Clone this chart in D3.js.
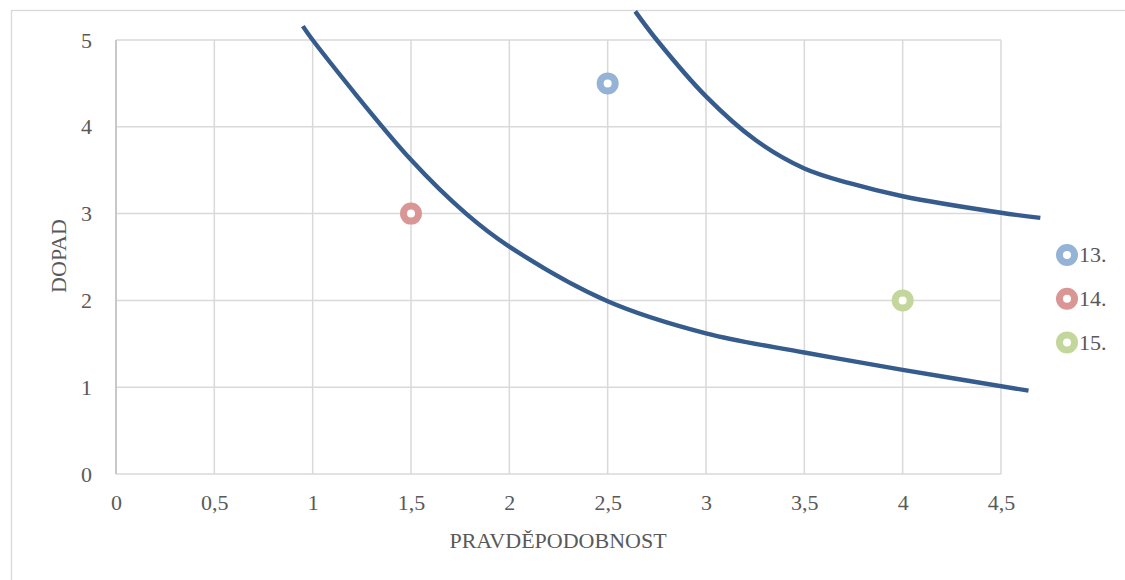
<!DOCTYPE html>
<html><head><meta charset="utf-8">
<script src="https://cdn.jsdelivr.net/npm/d3@7"></script>
<style>body{margin:0;background:#fff}svg{display:block}</style>
</head><body><svg id="c" width="1125" height="580"></svg>
<script>
const xTicks = [0,0.5,1,1.5,2,2.5,3,3.5,4,4.5];
const xTickLabels = ["0","0,5","1","1,5","2","2,5","3","3,5","4","4,5"];
const yTicks = [0,1,2,3,4,5];
const yTickLabels = ["0","1","2","3","4","5"];
const lowerCurveX = [0.95,1,1.5,1.78,2,2.5,3,3.5,4,4.64];
const lowerCurveY = [5.16,5.0,3.62,3.0,2.62,1.99,1.62,1.4,1.2,0.96];
const upperCurveX = [2.64,2.75,3,3.25,3.5,3.73,4,4.5,4.7];
const upperCurveY = [5.33,5.0,4.35,3.85,3.52,3.35,3.2,3.01,2.95];
const seriesNames = ["13.","14.","15."];
const seriesX = [2.5,1.5,4];
const seriesY = [4.5,3,2];
const seriesColors = ["#95b3d7","#d99694","#c3d69b"];

const svg = d3.select("#c");
const font = "'Liberation Serif', serif";
const fs = 22;
const textColor = "#595959";
svg.append("rect").attr("x",11.5).attr("y",10.5).attr("width",1200).attr("height",700)
  .attr("fill","#fff").attr("stroke","#d9d9d9").attr("stroke-width",1.3);

const x = d3.scaleLinear().domain([0,4.5]).range([116,1001]);
const y = d3.scaleLinear().domain([0,5]).range([474,40]);

const g = svg.append("g");
g.selectAll(".vg").data(xTicks).join("line")
  .attr("x1",d=>x(d)).attr("x2",d=>x(d)).attr("y1",y(0)).attr("y2",y(5))
  .attr("stroke","#d9d9d9").attr("stroke-width",1.5);
g.selectAll(".hg").data(yTicks).join("line")
  .attr("x1",x(0)).attr("x2",x(4.5)).attr("y1",d=>y(d)).attr("y2",d=>y(d))
  .attr("stroke","#d9d9d9").attr("stroke-width",1.5);
g.append("line").attr("x1",x(0)).attr("x2",x(0)).attr("y1",y(0)).attr("y2",y(5))
  .attr("stroke","#bfbfbf").attr("stroke-width",1.5);

const xAxis = d3.axisBottom(x).tickValues(xTicks).tickFormat((d,i)=>xTickLabels[i]).tickSize(0).tickPadding(20.5);
const xa = svg.append("g").attr("transform",`translate(0,${y(0)})`).call(xAxis);
const yAxis = d3.axisLeft(y).tickValues(yTicks).tickFormat((d,i)=>yTickLabels[i]).tickSize(0).tickPadding(24);
const ya = svg.append("g").attr("transform",`translate(${x(0)},0)`).call(yAxis);
[xa,ya].forEach(a=>{a.select(".domain").remove();
  a.selectAll("text").attr("font-family",font).attr("font-size",fs).attr("fill",textColor);});

const line = d3.line().x(d=>x(d[0])).y(d=>y(d[1])).curve(d3.curveCatmullRom.alpha(0.5));
[[lowerCurveX,lowerCurveY],[upperCurveX,upperCurveY]].forEach(([xs,ys])=>{
  svg.append("path").datum(xs.map((v,i)=>[v,ys[i]])).attr("d",line)
    .attr("fill","none").attr("stroke","#355c8c").attr("stroke-width",4.4);
});

seriesNames.forEach((n,i)=>{
  svg.append("circle").attr("cx",x(seriesX[i])).attr("cy",y(seriesY[i])).attr("r",7.5)
    .attr("fill","#fff").attr("stroke",seriesColors[i]).attr("stroke-width",7);
});

const lg = svg.append("g");
seriesNames.forEach((n,i)=>{
  const cy = 255 + i*43.7;
  lg.append("circle").attr("cx",1067).attr("cy",cy).attr("r",7.5)
    .attr("fill","#fff").attr("stroke",seriesColors[i]).attr("stroke-width",7);
  lg.append("text").attr("x",1079).attr("y",cy).attr("dy","0.34em").text(n)
    .attr("font-family",font).attr("font-size",fs).attr("fill",textColor);
});

svg.append("text").attr("x",558).attr("y",548).attr("text-anchor","middle").text("PRAVDĚPODOBNOST")
  .attr("font-family",font).attr("font-size",fs).attr("fill",textColor);
svg.append("text").attr("transform","translate(66,256) rotate(-90)").attr("text-anchor","middle").text("DOPAD")
  .attr("font-family",font).attr("font-size",fs).attr("fill",textColor);
</script></body></html>
